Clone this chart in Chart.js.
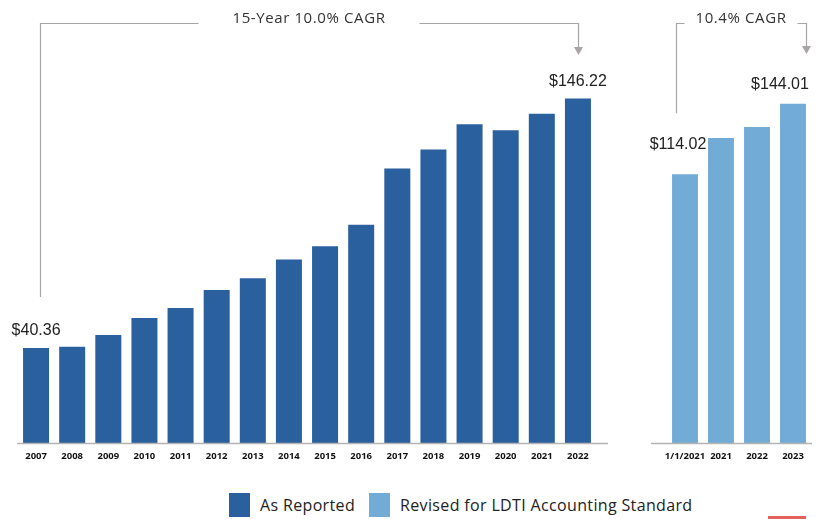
<!DOCTYPE html>
<html>
<head>
<meta charset="utf-8">
<title>Book Value Growth</title>
<script src="https://cdn.jsdelivr.net/npm/chart.js"></script>
<style>
  html, body { margin: 0; padding: 0; background: #fff; }
  body { width: 818px; height: 519px; position: relative; overflow: hidden; font-family: 'Open Sans', sans-serif; }
  #left { position: absolute; left: 0; top: 0; }
  #right { position: absolute; left: 640px; top: 0; }
  .legend { position: absolute; left: 229px; top: 493px; display: flex; align-items: center; font-size: 16px; letter-spacing: 0.35px; color: #222; }
  .sw { display: inline-block; width: 21px; height: 24px; margin-right: 10px; }
  .item { display: flex; align-items: center; margin-right: 14px; }
  .redmark { position: absolute; left: 768px; top: 516px; width: 38px; height: 3px; background: #e4605c; }
</style>
</head>
<body>
  <canvas id="left" width="625" height="470"></canvas>
  <canvas id="right" width="178" height="470"></canvas>
  <div class="legend">
    <div class="item"><span class="sw" style="background:#2b609e"></span>As Reported</div>
    <div class="item"><span class="sw" style="background:#72acd6"></span>Revised for LDTI Accounting Standard</div>
  </div>
  <div class="redmark"></div>

<script>
// values
const reportedYears = ['2007', '2008', '2009', '2010', '2011', '2012', '2013', '2014',
                       '2015', '2016', '2017', '2018', '2019', '2020', '2021', '2022'];
const reportedValues = [40.36, 40.9, 45.8, 53.0, 57.3, 64.9, 69.9, 77.9,
                        83.5, 92.6, 116.5, 124.6, 135.3, 132.7, 139.7, 146.22];
const revisedLabels = ['1/1/2021', '2021', '2022', '2023'];
const revisedValues = [114.02, 129.4, 134.1, 144.01];
const Y_MAX = 160;

const DARK = '#2b609e';
const LIGHT = '#72acd6';
const GREY = '#a9a5a5';

// axis line, value labels and CAGR brackets
const decoPlugin = {
  id: 'deco',
  afterDatasetsDraw(chart, args, o) {
    const ctx = chart.ctx;
    const area = chart.chartArea;
    const ys = chart.scales.y;
    const bars = chart.getDatasetMeta(0).data;
    const data = chart.data.datasets[0].data;
    ctx.save();

    // base line
    const y0 = Math.round(ys.getPixelForValue(0)) + 0.5;
    ctx.strokeStyle = '#b4b4b4';
    ctx.lineWidth = 1.5;
    ctx.beginPath();
    ctx.moveTo(area.left + o.axis[0], y0);
    ctx.lineTo(area.right + o.axis[1], y0);
    ctx.stroke();

    // value labels
    ctx.fillStyle = '#222';
    ctx.font = '16px "Liberation Sans", Arial, sans-serif';
    ctx.textAlign = 'center';
    ctx.textBaseline = 'alphabetic';
    o.labels.forEach(l => {
      const b = bars[l.i];
      ctx.fillText('$' + data[l.i].toFixed(2), b.x + l.dx, b.y - l.dy);
    });

    // bracket
    const br = o.bracket;
    const xa = bars[br.from].x + br.fromDx;
    const xb = bars[br.to].x + br.toDx;
    const yt = br.y + 0.5;
    ctx.font = '15px "Open Sans", sans-serif';
    ctx.letterSpacing = '0.6px';
    ctx.textBaseline = 'middle';
    const tw = ctx.measureText(br.text).width;
    const xc = (xa + xb) / 2;
    ctx.fillStyle = '#333';
    ctx.fillText(br.text, xc, br.y - 4);
    ctx.letterSpacing = '0px';

    ctx.strokeStyle = GREY;
    ctx.lineWidth = 1.2;
    ctx.beginPath();
    ctx.moveTo(Math.round(xa) + 0.5, bars[br.from].y - br.drop);
    ctx.lineTo(Math.round(xa) + 0.5, yt);
    ctx.lineTo(xc - tw / 2 - br.gap, yt);
    ctx.moveTo(xc + tw / 2 + br.gap, yt);
    ctx.lineTo(Math.round(xb) + 0.5, yt);
    ctx.lineTo(Math.round(xb) + 0.5, br.arrowY - 7);
    ctx.stroke();

    ctx.fillStyle = GREY;
    ctx.beginPath();
    ctx.moveTo(Math.round(xb) + 0.5 - 4.5, br.arrowY - 8);
    ctx.lineTo(Math.round(xb) + 0.5 + 4.5, br.arrowY - 8);
    ctx.lineTo(Math.round(xb) + 0.5, br.arrowY);
    ctx.closePath();
    ctx.fill();

    ctx.restore();
  }
};

function makeChart(id, labels, values, color, pad, deco) {
  return new Chart(document.getElementById(id), {
    type: 'bar',
    data: {
      labels: labels,
      datasets: [{ data: values, backgroundColor: color, borderWidth: 0,
                   barPercentage: 0.72, categoryPercentage: 1 }]
    },
    options: {
      responsive: false,
      animation: false,
      layout: { padding: pad },
      scales: {
        y: { display: false, min: 0, max: Y_MAX },
        x: {
          grid: { display: false, drawTicks: false },
          border: { display: false },
          ticks: { color: '#111', font: { family: 'Open Sans', size: 9.5, weight: 'bold' },
                   padding: 8, maxRotation: 0, autoSkip: false },
          afterFit(scale) { scale.height = 27; }
        }
      },
      plugins: {
        legend: { display: false },
        tooltip: { enabled: false },
        deco: deco
      }
    },
    plugins: [decoPlugin]
  });
}

makeChart('left', reportedYears, reportedValues, DARK,
  { left: 18, right: 29, top: 66, bottom: 0 },
  {
    axis: [-1, 12],
    labels: [{ i: 0, dx: 0, dy: 13 }, { i: 15, dx: 0, dy: 12 }],
    bracket: { from: 0, to: 15, fromDx: 4, toDx: 0, y: 23, gap: 34, drop: 51, arrowY: 55,
               text: '15-Year 10.0% CAGR' }
  });

makeChart('right', revisedLabels, revisedValues, LIGHT,
  { left: 27, right: 7, top: 66, bottom: 0 },
  {
    axis: [-16, 1],
    labels: [{ i: 0, dx: -7, dy: 25 }, { i: 3, dx: -13, dy: 15 }],
    bracket: { from: 0, to: 3, fromDx: -9, toDx: 13, y: 23, gap: 11, drop: 61, arrowY: 54,
               text: '10.4% CAGR' }
  });
</script>
</body>
</html>
